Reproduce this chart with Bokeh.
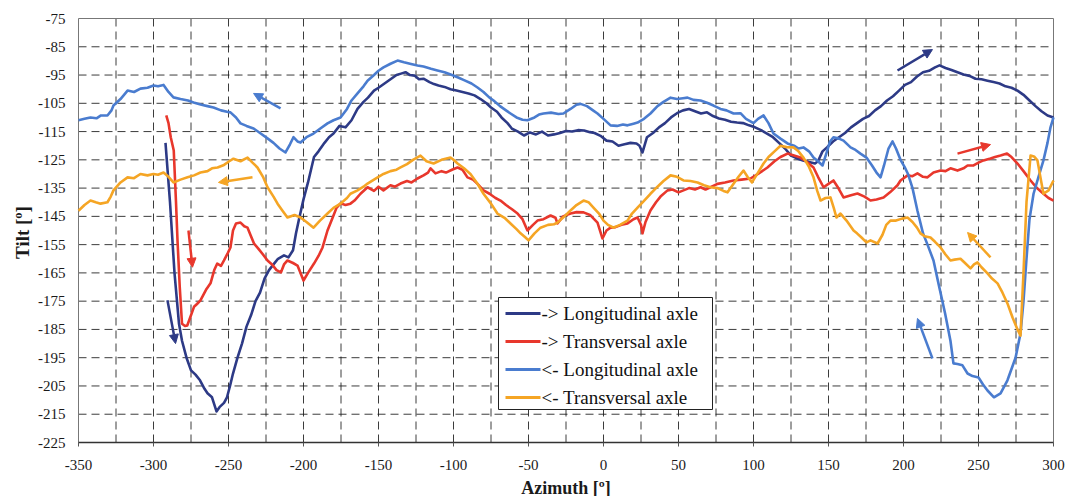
import math
from bokeh.plotting import figure
from bokeh.models import (Arrow, NormalHead, Label, LabelSet, ColumnDataSource, BoxAnnotation)
from bokeh.embed import file_html
from bokeh.resources import INLINE

# ---------------- data ----------------
fl_x = [-292, -289, -286, -283, -281, -278, -275, -272, -269, -266, -264, -261, -258, -256, -253, -251, -249, -247, -244, -241,
        -238, -235, -232, -229, -226, -223, -220, -217, -213, -210, -207, -205, -203, -200, -197, -193, -190, -186, -183, -180,
        -176, -172, -168, -164, -160, -157, -153, -150, -146, -142, -138, -135, -132, -129, -126, -123, -120, -116, -113, -110,
        -106, -102, -98, -94, -90, -86, -82, -78, -75, -71, -68, -64, -61, -57, -53, -49, -45, -41, -37, -33,
        -29, -25, -21, -17, -13, -9, -6, -2, 2, 6, 10, 14, 18, 22, 24, 26, 29, 33, 37, 41,
        45, 49, 53, 57, 61, 65, 69, 73, 77, 81, 85, 89, 93, 97, 101, 105, 109, 113, 117, 121,
        125, 129, 133, 137, 141, 143, 146, 149, 153, 157, 161, 165, 169, 173, 177, 181, 185, 189, 193, 197,
        201, 205, 209, 213, 217, 221, 224, 228, 232, 236, 240, 244, 248, 252, 256, 260, 264, 268, 272, 276,
        280, 284, 288, 292, 296, 300]
fl_y = [-119, -140, -165, -183, -189, -195, -199.5, -201, -203, -206, -207.6, -209, -214, -212.5, -211, -209, -205, -200.6, -195, -190,
        -184, -180, -175, -172, -167, -164, -162, -160, -158.8, -159.5, -157, -151, -146, -139, -133, -124, -122, -119, -117, -115.7,
        -113, -113.5, -111, -107, -104.5, -103, -100.5, -99.5, -98, -96.5, -95, -94.5, -94, -95, -95.2, -96.5, -96.3, -97.5, -98.2, -98.7,
        -99.2, -100, -100.5, -101, -101.5, -102.2, -103.5, -105, -106.5, -108, -110, -112, -114, -115, -116.4, -115.3, -116, -115, -116.4, -116,
        -115.5, -114.8, -115, -114.5, -114.6, -115.2, -115.5, -116.5, -118.2, -118.5, -120, -119.5, -119, -119.2, -120, -122.4, -117, -115.5, -113.5, -112,
        -110, -108.5, -107.5, -107, -107.8, -108.6, -108.2, -109.5, -110.4, -110.8, -111.5, -111.8, -112, -112.8, -113.5, -114.5, -115.7, -117, -119, -121,
        -123.5, -124.5, -125.2, -125.8, -126.3, -125.5, -122, -120.6, -118.5, -117, -115.5, -113.5, -112, -110.5, -109.5, -107.5, -106, -104, -102.5, -100.5,
        -98.5, -97.5, -95.5, -94, -93.5, -92.3, -91.6, -92.5, -93.2, -94, -94.8, -95.3, -96.3, -96.5, -97, -97.5, -98, -99, -99.5, -100.5,
        -102, -104, -106, -107.8, -109.3, -110]

ft_x = [-291.5, -290, -288.5, -286.5, -285, -284, -282.5, -281, -279, -277.5, -275, -273, -271, -268.7, -265, -262, -259.5, -257.5, -255, -253,
        -250.5, -248.7, -247, -245, -242, -239.5, -237.3, -235, -233, -230, -227, -224, -221, -218, -215, -213, -210.7, -207, -204, -202,
        -200, -197, -193, -190, -187.3, -184, -181, -178, -175.3, -172, -168.7, -166, -162, -157.3, -153, -150, -146.7, -142, -139, -135.3,
        -131, -128, -124, -120, -117, -115.3, -112, -108, -105, -101, -97.3, -94, -90.7, -87, -84, -80, -76, -72, -68.7, -65,
        -61, -57.3, -54, -50.7, -47, -44, -40, -35.3, -32, -30.7, -27, -22, -18, -13.3, -9, -4, -0.7, 2, 4.7, 8,
        12, 16, 20, 22.7, 25, 26, 28, 31.3, 35, 38, 42.7, 46, 50, 53.3, 57, 61, 64.7, 68, 71.3, 76,
        81, 86.7, 92, 98, 103, 109.3, 114, 118, 122.7, 127, 131.3, 135, 140, 143, 146.7, 150, 153.3, 156, 160, 165,
        169.3, 174, 178, 182, 186.7, 191, 196, 198, 202.7, 206, 209.3, 213, 216, 220, 224.7, 228, 231.3, 236, 240, 242.7,
        246.7, 250, 253.3, 258, 261, 264.7, 269, 272, 276, 280, 284.7, 289, 293.3, 296.7, 300]
ft_y = [-109.3, -112, -117, -121.7, -140, -153.5, -170, -183, -183.8, -183.6, -180, -177, -176, -174.7, -171, -168.7, -164, -161.7, -162.5, -160.6,
        -158, -156, -150, -147.5, -147.2, -148.5, -149, -152, -154.6, -156.5, -158.5, -160.6, -162, -164, -164.8, -162, -160.6, -161.5, -162.4, -165,
        -167.7, -165, -161.7, -159, -156, -150, -146, -142, -140.4, -141, -140.5, -139.4, -137, -134.7, -136, -134.5, -135.8, -134, -134.5, -133.4,
        -132.5, -133, -131.6, -130.5, -129.5, -128, -129.8, -129, -129.5, -128.5, -127.7, -128.5, -131.2, -132, -133.5, -135.8, -137, -138.5, -139.4, -141,
        -142.5, -144, -146, -150, -148, -146.5, -146, -144.7, -145.5, -147.5, -145, -144, -143.5, -143.6, -144.5, -147.2, -152.8, -150, -149, -148.8,
        -148, -147.5, -146, -145.4, -148, -151, -147, -142.9, -140, -138, -135.8, -135.5, -136.5, -135.8, -135, -135.5, -134.7, -135.5, -134.7, -133.5,
        -133, -132.3, -132, -131.6, -130, -127.7, -125.5, -124, -122.8, -123.5, -124.2, -125.5, -127.7, -131, -134.7, -133.5, -132.3, -134.5, -138.3, -137.5,
        -136.9, -138, -139.4, -139, -138.3, -136.5, -134, -132.3, -130.5, -130.8, -129.8, -131, -131.2, -129.5, -128.8, -129, -128, -128.8, -128, -127,
        -127, -126, -125.2, -124.5, -124, -123.5, -122.8, -124, -126.3, -129, -132.3, -135, -137, -138.5, -139.4]

bl_x = [-350, -346, -342, -338, -335, -330.7, -328, -326.7, -322, -317.3, -313, -308.7, -304, -300, -297, -293.3, -290, -286.7, -282, -277,
        -273.3, -268, -264, -260, -255, -251, -248.7, -245, -242, -238, -233.3, -229, -224, -220, -216, -212, -209, -206.7, -204, -202,
        -198, -193.3, -189, -184, -180, -175.3, -171, -168, -164, -160, -157.3, -153, -150, -146.7, -142, -137.3, -133, -129, -124, -120,
        -115, -110.7, -106, -101, -97.3, -93, -88, -84, -80, -76, -73.3, -69, -65, -62, -58, -54, -50.7, -46, -43, -40,
        -35, -30, -26.7, -22, -18, -15.3, -11, -7, -4, 0, 4.7, 9, 13, 16, 20, 22.7, 27, 31.3, 36, 40,
        44.7, 49, 53, 56, 60, 64.7, 69, 73.3, 78, 82, 86.7, 91.3, 95, 100, 103, 106.7, 110, 113.3, 118, 122.7,
        127, 130, 133.3, 137, 140, 143, 146, 149, 151, 153.3, 157, 160, 164.7, 168, 171.3, 175.3, 179, 182, 184.7, 187,
        190, 192.7, 195, 198, 200.7, 203, 206, 209.3, 213, 216, 220, 223.3, 227.7, 231.3, 233.3, 236, 239.3, 242.7, 246, 250,
        253, 256, 260.3, 264.7, 269.3, 274.7, 278, 280, 282, 284, 286.7, 290, 293.3, 296, 298, 300]
bl_y = [-111, -110.5, -110, -110.3, -109.3, -109.3, -107.5, -105.8, -103.5, -100.5, -101, -99.8, -99.5, -98.7, -99, -98.5, -101, -102.9, -103.5, -104,
        -104.7, -105.5, -106, -106.5, -107.5, -108, -108.2, -110, -112.1, -113, -113.9, -115.5, -117.4, -119, -121, -122.4, -119.5, -117, -118.5, -118.9,
        -117, -115.7, -114, -112.1, -111, -110, -107, -104, -101.5, -99, -97, -95, -93.5, -92.3, -91, -89.9, -90.5, -91, -91.6, -92,
        -92.8, -93.4, -94, -95, -95.8, -96.8, -98, -99.4, -101, -103, -104, -106, -107.5, -108.6, -110, -110.8, -111, -110, -109, -108.6,
        -108.3, -108.8, -108.6, -107, -105.5, -105.2, -106, -107.5, -108.6, -110.5, -112.8, -113, -112.5, -112.8, -112.2, -111.8, -110.5, -108.6, -106, -104.5,
        -103, -103.5, -103.2, -103, -103.8, -104, -104.8, -105.8, -107, -107.5, -108.6, -108.5, -110.5, -112, -110.5, -109.3, -112, -115.7, -117.5, -119.2,
        -120, -121, -120.6, -122, -124.2, -125.5, -127, -122, -118.5, -117, -117.5, -118.2, -120.6, -121.5, -122.8, -124.2, -127, -129.5, -131.2, -127,
        -121, -118.5, -121, -125, -127.5, -130, -135, -143, -151, -155, -160.6, -168.7, -179.3, -189, -197, -197.2, -197.7, -200.6, -201.5, -202,
        -204.5, -206.6, -209, -207.6, -203, -195, -186.4, -175, -160, -146, -137, -131, -125.2, -119, -113.5, -110]

bt_x = [-350, -346, -342, -338.5, -335.3, -330.7, -328.5, -326.7, -322, -317.3, -313, -308.7, -304, -300, -297, -293.3, -290, -286.7, -282, -277.3,
        -273, -268.7, -264, -261, -257.3, -253, -249.5, -246.7, -242, -237.3, -234, -230.7, -227, -224, -220, -217.3, -214, -210.7, -206, -202,
        -198, -193.3, -189, -184, -180, -175.3, -171, -168.7, -164, -160, -157.3, -153, -150, -146.7, -142, -138, -135.3, -131, -127, -122,
        -118, -113.3, -108, -102, -100, -97.3, -93, -88.7, -84, -80, -75, -70.7, -66, -62, -58, -55.3, -52, -50, -46, -42,
        -37, -33, -30.7, -26, -22, -18, -13.3, -10, -6.7, -3, 0, 3, 6.7, 11, 16, 19, 22.7, 27, 31.3, 36,
        40, 44.7, 49, 53.3, 58, 62.7, 67, 71.3, 76, 80, 82.7, 86, 90, 93.3, 96, 99, 103, 106.7, 110, 114,
        118, 122, 126.7, 130, 133.3, 137, 140, 142.5, 144.7, 148, 151.3, 153.5, 155.3, 158, 162, 166.7, 169, 172, 175.3, 178,
        182.7, 186, 188.5, 191.3, 195, 199, 202.7, 206, 209, 211.3, 214, 218, 221, 224.7, 228, 231.3, 234, 238, 241, 244.7,
        247, 249.3, 252, 256, 259, 262.7, 266, 269.3, 272.7, 276, 278, 280, 282, 284.7, 287, 289.3, 291.3, 293.3, 296.7, 300]
bt_y = [-143, -141, -139.4, -140, -140.5, -140, -138, -135.8, -133, -131.2, -131.5, -130, -130.5, -130, -130.3, -129.5, -131, -133, -132, -131.2,
        -130.5, -129.5, -129, -128, -127.7, -126.8, -125.5, -124.6, -125.5, -124.2, -126, -127.7, -131, -134.7, -138, -140.5, -143, -145.4, -144.5, -145.4,
        -147, -149, -146.5, -144, -142, -140.5, -138.5, -137, -135.8, -134.5, -133.4, -132, -131, -130, -129, -128.5, -127.7, -126.5, -125, -123.5,
        -125.5, -126.3, -125, -124.2, -125, -126.3, -128, -130, -133.5, -137, -140.5, -144, -145.5, -147.5, -149.5, -151, -152.5, -153.5, -151, -149,
        -148, -147.8, -147.2, -145, -142.9, -141, -139.4, -140, -141.9, -144, -146.5, -148, -149, -148, -146.5, -144, -141.9, -139.5, -137, -134.5,
        -132.5, -130.5, -131, -132.3, -132.5, -133, -134, -134.7, -135, -136, -136.5, -134, -131, -128.8, -131, -133, -129.5, -126.3, -124, -122,
        -120, -120.5, -120.6, -122, -124.2, -127.5, -131.2, -136, -139.4, -138.5, -138.3, -142, -145.4, -144, -146.5, -150, -151, -152.5, -154.2, -153.5,
        -154.6, -151.5, -148, -146.5, -146.5, -145.8, -145.4, -147, -149, -151, -152, -152.5, -154, -156, -158.5, -160.6, -160.3, -160, -161.5, -163.4,
        -162, -161.3, -163, -165.2, -167, -168.7, -172, -175.8, -180.8, -185, -187.2, -165, -140, -123.5, -123.8, -125.2, -131.2, -137, -135.8, -132.3]

# annotation arrows (data coordinates: tail -> head)
arrow_x0 = [-215.3, -234, -290.7, -276.7, 196, 236, 258, 219.3]
arrow_y0 = [-106.8, -131.2, -174.7, -150, -93.4, -122.8, -159.5, -195.3]
arrow_x1 = [-233.3, -256.7, -285.3, -274, 219.3, 258, 242.7, 209.3]
arrow_y1 = [-101.5, -133, -190, -163, -86, -119.6, -150.7, -181.1]

series_labels = ["-> Longitudinal axle", "-> Transversal axle", "<- Longitudinal axle", "<- Transversal axle"]
x_ticks = [-350, -300, -250, -200, -150, -100, -50, 0, 50, 100, 150, 200, 250, 300]
x_grid = [-325, -300, -275, -250, -225, -200, -175, -150, -125, -100, -75, -50, -25, 0, 25, 50, 75, 100, 125, 150, 175, 200, 225, 250, 275]
y_ticks = [-225, -215, -205, -195, -185, -175, -165, -155, -145, -135, -125, -115, -105, -95, -85, -75]
x_title = "Azimuth [º]"
y_title = "Tilt [º]"

# ---------------- layout / styling ----------------
C_NAVY = "#2d3a86"
C_RED = "#e8372c"
C_BLUE = "#4a7ccf"
C_ORANGE = "#f5a524"
series_colors = [C_NAVY, C_RED, C_BLUE, C_ORANGE]
arrow_colors = [C_BLUE, C_ORANGE, C_NAVY, C_RED, C_NAVY, C_RED, C_ORANGE, C_BLUE]
SERIF = "Liberation Serif"
TXT = "#1a1a1a"

W, H = 1068, 496                      # canvas
PL, PT, PW, PH = 78, 18, 975, 424     # plot box inside the canvas (px)
X0, X1 = x_ticks[0], x_ticks[-1]
Y0, Y1 = y_ticks[0], y_ticks[-1]
UX = (X1 - X0) / PW                   # data units per px
UY = (Y1 - Y0) / PH
x_range = (X0 - PL * UX, X1 + (W - PL - PW) * UX)
y_range = (Y0 - (H - PT - PH) * UY, Y1 + PT * UY)


def fx(px):  # plot-box px (from left) -> data x
    return X0 + px * UX


def fy(px):  # plot-box px (from top) -> data y
    return Y1 - px * UY


p = figure(width=W, height=H, x_range=x_range, y_range=y_range,
           x_axis_type=None, y_axis_type=None,
           output_backend="svg", toolbar_location=None,
           min_border=0, min_border_left=0, min_border_right=0, min_border_top=0, min_border_bottom=0)
p.background_fill_color = "white"
p.border_fill_color = "white"
p.outline_line_color = None

# grid (dashed), drawn through the data scales
p.segment(x0=x_grid, x1=x_grid, y0=[Y0] * len(x_grid), y1=[Y1] * len(x_grid),
          line_color="#1a1a1a", line_alpha=0.85, line_width=1, line_dash="8 5")
yg = y_ticks[1:-1]
p.segment(x0=[X0] * len(yg), x1=[X1] * len(yg), y0=yg, y1=yg,
          line_color="#1a1a1a", line_alpha=0.85, line_width=1, line_dash="8 5")

# plot box and x axis line / ticks
p.quad(left=X0, right=X1, bottom=Y0, top=Y1, fill_color=None, line_color="#777777", line_width=1)
p.segment(x0=[X0], x1=[X1], y0=[Y0], y1=[Y0], line_color="#333333", line_width=1.5)
p.segment(x0=x_ticks, x1=x_ticks, y0=[Y0] * len(x_ticks), y1=[Y0 - 4 * UY] * len(x_ticks),
          line_color="#555555", line_width=1)

# tick labels
xsrc = ColumnDataSource(dict(x=x_ticks, y=[Y0] * len(x_ticks), text=[str(t) for t in x_ticks]))
p.add_layout(LabelSet(x="x", y="y", text="text", source=xsrc, y_offset=-17,
                      text_align="center", text_baseline="top",
                      text_font=SERIF, text_font_size="15px", text_color=TXT))
ysrc = ColumnDataSource(dict(x=[X0] * len(y_ticks), y=y_ticks, text=[str(t) for t in y_ticks]))
p.add_layout(LabelSet(x="x", y="y", text="text", source=ysrc, x_offset=-13,
                      text_align="right", text_baseline="middle",
                      text_font=SERIF, text_font_size="15px", text_color=TXT))

# axis titles
p.add_layout(Label(x=(X0 + X1) / 2, y=Y0, y_offset=-45, text=x_title,
                   text_align="center", text_baseline="middle",
                   text_font=SERIF, text_font_style="bold", text_font_size="18px", text_color=TXT))
p.add_layout(Label(x=X0, y=(Y0 + Y1) / 2, x_offset=-56, y_offset=-2, text=y_title, angle=math.pi / 2,
                   text_align="center", text_baseline="middle",
                   text_font=SERIF, text_font_style="bold", text_font_size="19px", text_color=TXT))

# series
for xs, ys, c in ((fl_x, fl_y, C_NAVY), (ft_x, ft_y, C_RED), (bl_x, bl_y, C_BLUE), (bt_x, bt_y, C_ORANGE)):
    p.line(xs, ys, line_color=c, line_width=2.6, line_join="round")

# arrows
for i in range(len(arrow_x0)):
    p.add_layout(Arrow(end=NormalHead(size=9, fill_color=arrow_colors[i], line_color=arrow_colors[i]),
                       x_start=arrow_x0[i], y_start=arrow_y0[i], x_end=arrow_x1[i], y_end=arrow_y1[i],
                       line_color=arrow_colors[i], line_width=2.5))

# legend (plot-box px geometry)
LG_L, LG_R, LG_T, LG_B = 420, 634, 279, 391
ROW0, ROW_H = 295, 28
p.add_layout(BoxAnnotation(left=fx(LG_L), right=fx(LG_R), top=fy(LG_T), bottom=fy(LG_B),
                           fill_color="white", fill_alpha=1, line_color="#222222", line_width=1, line_alpha=1))
row_y = [fy(ROW0 + i * ROW_H) for i in range(4)]
p.segment(x0=[fx(LG_L + 7)] * 4, x1=[fx(LG_L + 42)] * 4, y0=row_y, y1=row_y,
          line_color=series_colors, line_width=3, level="overlay")
lsrc = ColumnDataSource(dict(x=[fx(LG_L + 43)] * 4, y=row_y, text=series_labels))
p.add_layout(LabelSet(x="x", y="y", text="text", source=lsrc, level="overlay",
                      text_align="left", text_baseline="middle",
                      text_font=SERIF, text_font_size="19px", text_color="#111111"))

open("out.html", "w").write(file_html(p, INLINE))
